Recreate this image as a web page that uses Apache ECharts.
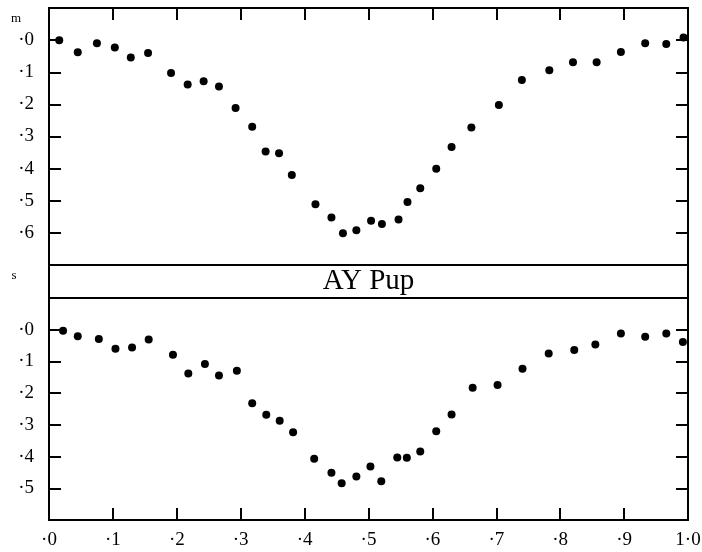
<!DOCTYPE html>
<html>
<head>
<meta charset="utf-8">
<title>AY Pup</title>
<script src="https://cdn.jsdelivr.net/npm/echarts@6/dist/echarts.min.js"></script>
<style>
  html, body { margin: 0; padding: 0; background: #fff; }
  #chart { width: 702px; height: 552px; }
</style>
</head>
<body>
<div id="chart"></div>
<script>
  // 上图：m 星等，下图：s
  var phaseM = [0.016, 0.045, 0.075, 0.103, 0.128, 0.155, 0.191, 0.217, 0.242, 0.266, 0.292, 0.318,
    0.339, 0.360, 0.380, 0.417, 0.442, 0.460, 0.481, 0.504, 0.521, 0.547, 0.561, 0.581, 0.606,
    0.630, 0.661, 0.704, 0.740, 0.783, 0.820, 0.857, 0.895, 0.933, 0.966, 0.993]
  var magM = [0.000, 0.038, 0.010, 0.023, 0.054, 0.040, 0.102, 0.138, 0.128, 0.144, 0.211, 0.270,
    0.347, 0.352, 0.420, 0.511, 0.552, 0.601, 0.592, 0.562, 0.572, 0.558, 0.504, 0.461, 0.400,
    0.333, 0.272, 0.202, 0.124, 0.094, 0.069, 0.069, 0.037, 0.010, 0.012, -0.008]

  var phaseS = [0.022, 0.045, 0.078, 0.104, 0.130, 0.156, 0.194, 0.218, 0.244, 0.266, 0.294, 0.318,
    0.340, 0.361, 0.382, 0.415, 0.442, 0.458, 0.481, 0.503, 0.520, 0.545, 0.560, 0.581, 0.606,
    0.630, 0.663, 0.702, 0.741, 0.782, 0.822, 0.855, 0.895, 0.933, 0.966, 0.992]
  var magS = [0.003, 0.021, 0.029, 0.060, 0.056, 0.031, 0.079, 0.138, 0.108, 0.144, 0.129, 0.232,
    0.268, 0.287, 0.323, 0.407, 0.451, 0.484, 0.463, 0.431, 0.478, 0.403, 0.404, 0.384, 0.320,
    0.267, 0.183, 0.174, 0.123, 0.075, 0.064, 0.047, 0.012, 0.022, 0.012, 0.039]

  var phaseTicks = ['·0', '·1', '·2', '·3', '·4', '·5', '·6', '·7', '·8', '·9', '1·0']
  var magTicksM = ['·0', '·1', '·2', '·3', '·4', '·5', '·6']
  var magTicksS = ['·0', '·1', '·2', '·3', '·4', '·5']
  var starName = 'AY Pup'

  var FONT = '"Liberation Serif", "DejaVu Serif", serif'
  var L = 49
  var R = 688
  var topA = 8
  var hA = 257
  var topB = 298
  var hB = 222

  function pairs (xs, ys) {
    return xs.map(function (x, i) { return [x, ys[i]] })
  }

  function magLabel (list) {
    return function (v) {
      var k = Math.round(v * 10)
      return (k >= 0 && k < list.length) ? list[k] : ''
    }
  }

  function tick () { // 向内的刻度
    return { show: true, inside: true, length: 12, lineStyle: { color: '#000', width: 2 } }
  }

  // 相位轴：onZero 挂在一根隐藏的辅助 y 轴上，这样正好落在边框上
  function xAxis (gridIndex, pos, zeroIndex, labels) {
    return {
      type: 'value', gridIndex: gridIndex, position: pos,
      min: 0, max: 1, interval: 0.1,
      axisLine: { show: true, onZero: true, onZeroAxisIndex: zeroIndex, lineStyle: { color: '#000', width: 2 } },
      axisTick: tick(),
      splitLine: { show: false },
      axisLabel: labels ? {
        show: true, margin: 11, color: '#000', fontFamily: FONT, fontSize: 19,
        formatter: function (v) { return labels[Math.round(v * 10)] }
      } : { show: false }
    }
  }

  function yAxis (gridIndex, pos, max, labels) {
    var axis = {
      type: 'value', gridIndex: gridIndex, position: pos, inverse: true,
      min: -0.1, max: max, interval: 0.1,
      axisLine: { show: true, lineStyle: { color: '#000', width: 2 } },
      axisTick: tick(),
      splitLine: { show: false },
      axisLabel: { show: false }
    }
    if (labels) {
      axis.axisLabel = { show: true, margin: 15, color: '#000', fontFamily: FONT, fontSize: 19, formatter: magLabel(labels) }
    }
    return axis
  }

  function helperAxis (gridIndex, inverse) {
    return { type: 'value', gridIndex: gridIndex, show: false, min: 0, max: 1, inverse: inverse }
  }

  var chart = echarts.init(document.getElementById('chart'))
  var option = {
    animation: false,
    backgroundColor: '#fff',
    grid: [
      { left: L, width: R - L, top: topA, height: hA, show: true, borderColor: '#000', borderWidth: 2,
        outerBoundsMode: 'none' },
      { left: L, width: R - L, top: topB, height: hB, show: true, borderColor: '#000', borderWidth: 2,
        outerBoundsMode: 'none' }
    ],
    xAxis: [
      xAxis(0, 'top', 4, null),
      xAxis(1, 'bottom', 5, phaseTicks)
    ],
    yAxis: [
      yAxis(0, 'left', 0.7, magTicksM),
      yAxis(0, 'right', 0.7, null),
      yAxis(1, 'left', 0.6, magTicksS),
      yAxis(1, 'right', 0.6, null),
      helperAxis(0, true),
      helperAxis(1, false)
    ],
    graphic: [
      { type: 'rect', shape: { x: L, y: topA + hA, width: R - L, height: topB - topA - hA },
        style: { fill: 'none', stroke: '#000', lineWidth: 2 } },
      { type: 'text', x: (L + R) / 2, y: (topA + hA + topB) / 2,
        style: { text: starName, fill: '#000', font: '29px ' + FONT, align: 'center', verticalAlign: 'middle' } },
      { type: 'text', x: 16, y: 19,
        style: { text: 'm', fill: '#000', font: '13px ' + FONT, align: 'center', verticalAlign: 'middle' } },
      { type: 'text', x: 14, y: 276,
        style: { text: 's', fill: '#000', font: '13px ' + FONT, align: 'center', verticalAlign: 'middle' } }
    ],
    series: [
      { type: 'scatter', xAxisIndex: 0, yAxisIndex: 0, symbolSize: 8,
        itemStyle: { color: '#000', opacity: 1 }, data: pairs(phaseM, magM) },
      { type: 'scatter', xAxisIndex: 1, yAxisIndex: 2, symbolSize: 8,
        itemStyle: { color: '#000', opacity: 1 }, data: pairs(phaseS, magS) }
    ]
  }
  chart.setOption(option)
</script>
</body>
</html>
